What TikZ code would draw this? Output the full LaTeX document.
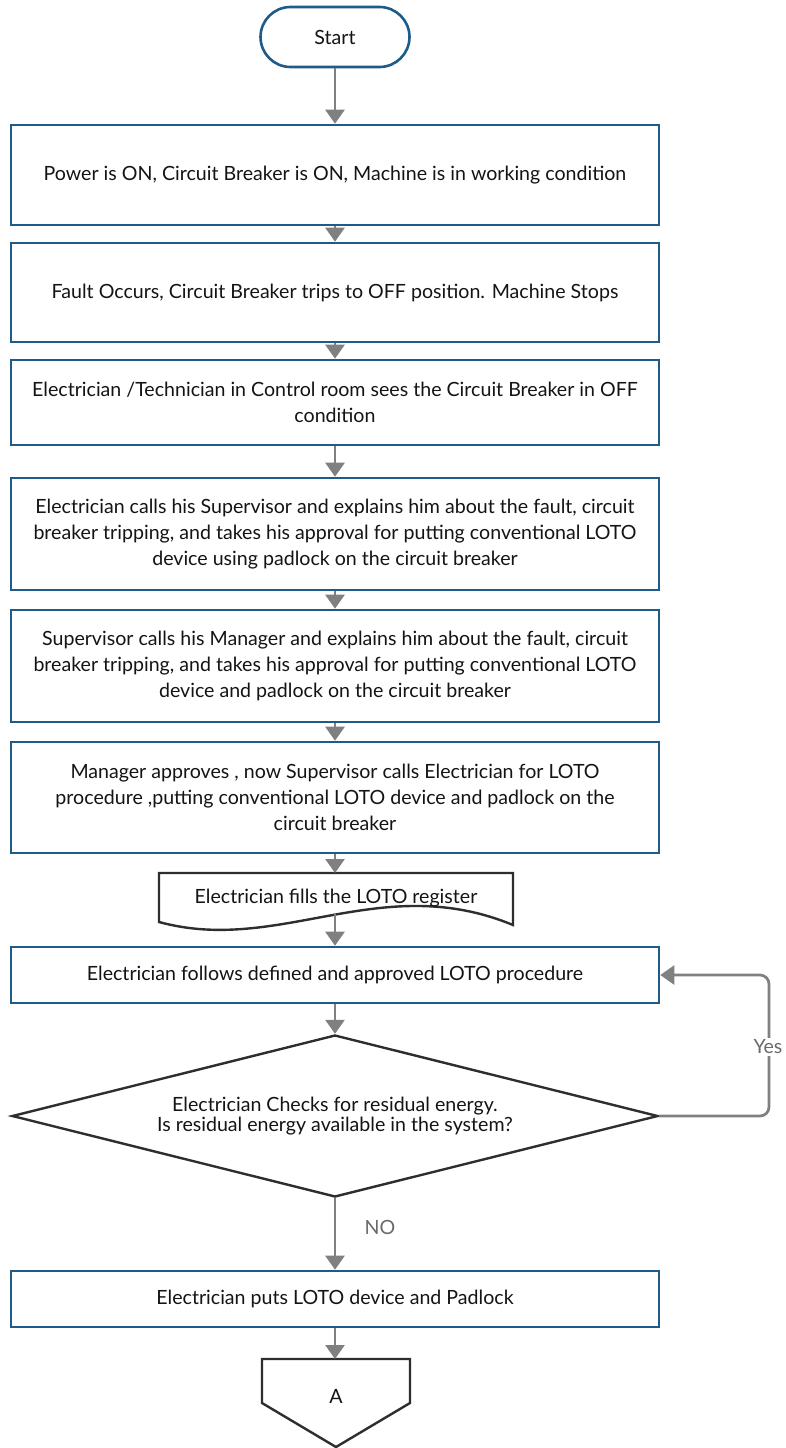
\documentclass[tikz,border=0pt]{standalone}
\usepackage{fontspec}
\setmainfont{Lato}
\usetikzlibrary{arrows.meta,shapes.geometric}
\definecolor{bblue}{HTML}{1F5B88}
\definecolor{agray}{HTML}{808080}
\definecolor{dgray}{HTML}{2E2E2E}
\definecolor{tblack}{HTML}{141414}
\definecolor{lgray}{HTML}{6A6A6A}
\begin{document}
\begin{tikzpicture}[x=1pt,y=-1pt,
  every node/.style={font=\fontsize{19.6}{26}\selectfont, text=tblack},
  pbox/.style={draw=bblue, line width=2.6pt, minimum width=648pt, align=center, inner sep=0pt},
  conn/.style={draw=agray, line width=2.7pt, -{Triangle[width=19pt,length=14pt]}},
  shp/.style={draw=dgray, line width=2.4pt},
  lbl/.style={text=lgray, font=\fontsize{19.6}{22}\selectfont}
]
\useasboundingbox (0,0) rectangle (785,1448);
\fill[white] (0,0) rectangle (785,1448);

\node[draw=bblue, line width=2.6pt, rounded corners=30pt, minimum width=149pt, minimum height=60pt, inner sep=0pt] (start) at (335,37) {Start};

\node[pbox, minimum height=100pt] (b1) at (335,175) {Power is ON, Circuit Breaker is ON, Machine is in working condition};
\node[pbox, minimum height=99pt] (b2) at (335,292.5) {Fault Occurs, Circuit Breaker trips to OFF position. Machine Stops};
\node[pbox, minimum height=85pt] (b3) at (335,402.5) {Electrician /Technician in Control room sees the Circuit Breaker in OFF\\condition};
\node[pbox, minimum height=112pt] (b4) at (335,534) {Electrician calls his Supervisor and explains him about the fault, circuit\\breaker tripping, and takes his approval for putting conventional LOTO\\device using padlock on the circuit breaker};
\node[pbox, minimum height=112pt] (b5) at (335,666) {Supervisor calls his Manager and explains him about the fault, circuit\\breaker tripping, and takes his approval for putting conventional LOTO\\device and padlock on the circuit breaker};
\node[pbox, minimum height=111pt] (b6) at (335,797.5) {Manager approves , now Supervisor calls Electrician for LOTO\\procedure ,putting conventional LOTO device and padlock on the\\circuit breaker};

% document shape
\draw[shp] (159,922) -- (159,873) -- (513,873) -- (513,925) .. controls (380,870) and (280,955) .. (159,922) -- cycle;
\node (doc) at (336,898) {Electrician fills the LOTO register};
\coordinate (doctop) at (335,873);
\coordinate (docbot) at (335,913);

\node[pbox, minimum height=56pt] (b7) at (335,975) {Electrician follows defined and approved LOTO procedure};

\node[shp, diamond, aspect=3.99, minimum width=646pt, minimum height=162pt, inner sep=0pt, align=center, font=\fontsize{19.6}{20.5}\selectfont] (dec) at (335,1116) {Electrician Checks for residual energy.\\Is residual energy available in the system?};

\node[pbox, minimum height=56pt] (b8) at (335,1299) {Electrician puts LOTO device and Padlock};

% off-page connector
\draw[shp] (262,1359) -- (410,1359) -- (410,1403) -- (336,1447) -- (262,1403) -- cycle;
\node (offp) at (336,1396) {A};
\coordinate (offtop) at (335,1359);

% connectors
\draw[conn] (start.south) -- (b1.north);
\draw[conn] (b1.south) -- (b2.north);
\draw[conn] (b2.south) -- (b3.north);
\draw[conn] (b3.south) -- (b4.north);
\draw[conn] (b4.south) -- (b5.north);
\draw[conn] (b5.south) -- (b6.north);
\draw[conn] (b6.south) -- (doctop);
\draw[conn] (docbot) -- (b7.north);
\draw[conn] (b7.south) -- (dec.north);
\draw[conn] (dec.south) -- (b8.north);
\node[lbl] (nolbl) at (380,1227) {NO};
\draw[conn] (b8.south) -- (offtop);
\draw[conn, rounded corners=9pt] (dec.east) -- (769,1116) -- (769,975) -- (b7.east);
\node[lbl, fill=white, inner sep=2pt] (yeslbl) at (768,1047) {Yes};
\end{tikzpicture}
\end{document}
